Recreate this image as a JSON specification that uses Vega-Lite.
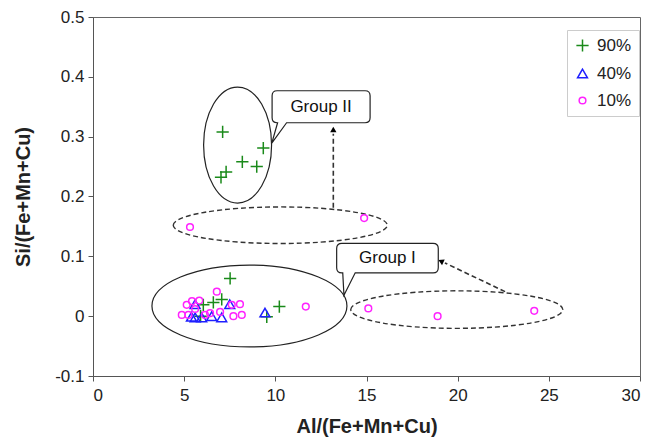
{
  "$schema": "https://vega.github.io/schema/vega-lite/v6.json",
  "width": 547,
  "height": 359,
  "autosize": "none",
  "padding": {"left": 93, "top": 17, "right": 20, "bottom": 65},
  "background": "white",
  "config": {
    "font": "Liberation Sans",
    "view": {"stroke": "#666", "strokeWidth": 1},
    "axis": {
      "grid": false,
      "domainColor": "#555",
      "tickColor": "#555",
      "tickSize": 5,
      "labelFontSize": 17,
      "labelColor": "#222",
      "titleFontSize": 20,
      "titleFontWeight": "bold",
      "titleColor": "#222"
    }
  },
  "datasets": {
    "points": [
      {"x": 7.11, "y": 0.308, "series": "90%"},
      {"x": 9.34, "y": 0.281, "series": "90%"},
      {"x": 8.19, "y": 0.258, "series": "90%"},
      {"x": 8.98, "y": 0.25, "series": "90%"},
      {"x": 7.3, "y": 0.241, "series": "90%"},
      {"x": 7.02, "y": 0.232, "series": "90%"},
      {"x": 7.52, "y": 0.063, "series": "90%"},
      {"x": 7.06, "y": 0.028, "series": "90%"},
      {"x": 6.6, "y": 0.023, "series": "90%"},
      {"x": 6.05, "y": 0.019, "series": "90%"},
      {"x": 10.22, "y": 0.016, "series": "90%"},
      {"x": 9.53, "y": -0.001, "series": "90%"},
      {"x": 5.9, "y": 0.0, "series": "90%"},
      {"x": 5.6, "y": 0.02, "series": "40%"},
      {"x": 7.5, "y": 0.02, "series": "40%"},
      {"x": 5.6, "y": -0.002, "series": "40%"},
      {"x": 5.96, "y": -0.002, "series": "40%"},
      {"x": 6.51, "y": 0.0, "series": "40%"},
      {"x": 7.06, "y": -0.002, "series": "40%"},
      {"x": 9.43, "y": 0.006, "series": "40%"},
      {"x": 5.4, "y": -0.001, "series": "40%"},
      {"x": 6.79, "y": 0.041, "series": "10%"},
      {"x": 5.83, "y": 0.026, "series": "10%"},
      {"x": 5.14, "y": 0.019, "series": "10%"},
      {"x": 8.06, "y": 0.02, "series": "10%"},
      {"x": 7.61, "y": 0.019, "series": "10%"},
      {"x": 4.87, "y": 0.002, "series": "10%"},
      {"x": 5.23, "y": 0.002, "series": "10%"},
      {"x": 6.97, "y": 0.007, "series": "10%"},
      {"x": 7.7, "y": 0.0, "series": "10%"},
      {"x": 8.16, "y": 0.002, "series": "10%"},
      {"x": 6.42, "y": 0.005, "series": "10%"},
      {"x": 6.14, "y": 0.002, "series": "10%"},
      {"x": 11.67, "y": 0.016, "series": "10%"},
      {"x": 15.1, "y": 0.013, "series": "10%"},
      {"x": 18.9, "y": 0.0, "series": "10%"},
      {"x": 24.2, "y": 0.009, "series": "10%"},
      {"x": 5.32, "y": 0.149, "series": "10%"},
      {"x": 14.87, "y": 0.164, "series": "10%"},
      {"x": 5.43, "y": 0.025, "series": "10%"},
      {"x": 5.6, "y": 0.012, "series": "10%"}
    ],
    "ann": [
      {"id": "e2", "x": 7.93, "y": 0.286},
      {"id": "e1", "x": 8.58, "y": 0.017},
      {"id": "d2", "x": 10.27, "y": 0.152},
      {"id": "d1", "x": 19.95, "y": 0.011},
      {"id": "c2", "x": 12.51, "y": 0.35, "label": "Group II"},
      {"id": "c1", "x": 16.15, "y": 0.097, "label": "Group I"},
      {"id": "h1", "x": 13.18, "y": 0.312},
      {"id": "h2", "x": 19.08, "y": 0.092}
    ],
    "arrows": [
      {"id": "a1", "x": 13.18, "y": 0.181, "o": 0},
      {"id": "a1", "x": 13.18, "y": 0.305, "o": 1},
      {"id": "a2", "x": 22.6, "y": 0.041, "o": 0},
      {"id": "a2", "x": 19.3, "y": 0.089, "o": 1}
    ]
  },
  "encoding": {
    "x": {"field": "x", "type": "quantitative", "scale": {"domain": [0, 30], "nice": false, "zero": false}, "axis": {"values": [0, 5, 10, 15, 20, 25, 30], "title": "Al/(Fe+Mn+Cu)", "labelPadding": 6, "titlePadding": 13}},
    "y": {"field": "y", "type": "quantitative", "scale": {"domain": [-0.1, 0.5], "nice": false, "zero": false}, "axis": {"values": [-0.1, 0, 0.1, 0.2, 0.3, 0.4, 0.5], "title": "Si/(Fe+Mn+Cu)", "labelExpr": "abs(datum.value) < 1e-9 ? '0' : replace(format(datum.value, '.1f'), '\u2212', '-')", "labelPadding": 4, "titlePadding": 21}}
  },
  "layer": [
    {
      "data": {"name": "arrows"},
      "mark": {"type": "line", "stroke": "#333", "strokeWidth": 1.6, "strokeDash": [5, 3]},
      "encoding": {"detail": {"field": "id"}, "order": {"field": "o"}}
    },
    {
      "data": {"name": "ann"},
      "transform": [{"filter": "datum.id == 'h1'"}],
      "mark": {"type": "point", "shape": "triangle-up", "size": 40, "filled": true, "color": "#000", "opacity": 1}
    },
    {
      "data": {"name": "ann"},
      "transform": [{"filter": "datum.id == 'h2'"}],
      "mark": {"type": "point", "shape": "triangle-up", "size": 40, "angle": 295, "filled": true, "color": "#000", "opacity": 1}
    },
    {
      "data": {"name": "ann"},
      "transform": [{"filter": "datum.id == 'e2'"}],
      "mark": {"type": "point", "shape": "M-0.586,0C-0.586,-0.552 -0.324,-1 0,-1C0.324,-1 0.586,-0.552 0.586,0C0.586,0.552 0.324,1 0,1C-0.324,1 -0.586,0.552 -0.586,0Z", "size": 13456, "filled": false, "stroke": "#222", "strokeWidth": 1.2, "opacity": 1}
    },
    {
      "data": {"name": "ann"},
      "transform": [{"filter": "datum.id == 'e1'"}],
      "mark": {"type": "point", "shape": "M-1,0C-1,-0.232 -0.552,-0.42 0,-0.42C0.552,-0.42 1,-0.232 1,0C1,0.232 0.552,0.42 0,0.42C-0.552,0.42 -1,0.232 -1,0Z", "size": 38025, "filled": false, "stroke": "#222", "strokeWidth": 1.2, "opacity": 1}
    },
    {
      "data": {"name": "ann"},
      "transform": [{"filter": "datum.id == 'd2'"}],
      "mark": {"type": "point", "shape": "M-1,0C-1,-0.094 -0.552,-0.171 0,-0.171C0.552,-0.171 1,-0.094 1,0C1,0.094 0.552,0.171 0,0.171C-0.552,0.171 -1,0.094 -1,0Z", "size": 45796, "filled": false, "stroke": "#333", "strokeWidth": 1.4, "strokeDash": [5, 3], "opacity": 1}
    },
    {
      "data": {"name": "ann"},
      "transform": [{"filter": "datum.id == 'd1'"}],
      "mark": {"type": "point", "shape": "M-1,0C-1,-0.098 -0.552,-0.177 0,-0.177C0.552,-0.177 1,-0.098 1,0C1,0.098 0.552,0.177 0,0.177C-0.552,0.177 -1,0.098 -1,0Z", "size": 44944, "filled": false, "stroke": "#333", "strokeWidth": 1.4, "strokeDash": [5, 3], "opacity": 1}
    },
    {
      "data": {"name": "ann"},
      "transform": [{"filter": "datum.id == 'c2'"}],
      "mark": {"type": "point", "shape": "M-0.88,-0.32L0.88,-0.32Q0.98,-0.32 0.98,-0.22L0.98,0.22Q0.98,0.32 0.88,0.32L-0.69,0.32L-0.986,0.726L-0.87,0.32L-0.88,0.32Q-0.98,0.32 -0.98,0.22L-0.98,-0.22Q-0.98,-0.32 -0.88,-0.32Z", "size": 10000, "filled": true, "fill": "white", "stroke": "#222", "strokeWidth": 1.2, "opacity": 1}
    },
    {
      "data": {"name": "ann"},
      "transform": [{"filter": "datum.id == 'c1'"}],
      "mark": {"type": "point", "shape": "M-0.877,-0.283L0.877,-0.283Q0.977,-0.283 0.977,-0.183L0.977,0.183Q0.977,0.283 0.877,0.283L-0.62,0.283L-0.837,0.712L-0.86,0.283L-0.877,0.283Q-0.977,0.283 -0.977,0.183L-0.977,-0.183Q-0.977,-0.283 -0.877,-0.283Z", "size": 10816, "filled": true, "fill": "white", "stroke": "#222", "strokeWidth": 1.2, "opacity": 1}
    },
    {
      "data": {"name": "ann"},
      "transform": [{"filter": "datum.id == 'c1' || datum.id == 'c2'"}],
      "mark": {"type": "text", "fontSize": 17, "color": "#111", "align": "center", "baseline": "middle"},
      "encoding": {"text": {"field": "label"}}
    },
    {
      "data": {"name": "points"},
      "mark": {"type": "point", "filled": false, "strokeWidth": 1.5, "opacity": 1},
      "encoding": {
        "shape": {"field": "series", "type": "nominal", "scale": {"domain": ["90%", "40%", "10%"], "range": ["M-1,0L1,0M0,-1L0,1", "triangle-up", "circle"]}, "legend": {"orient": "none", "legendX": 474, "legendY": 13, "title": null, "labelFontSize": 17, "labelColor": "#222", "strokeColor": "#ccc", "padding": 7, "rowPadding": 9, "symbolSize": 70, "symbolStrokeWidth": 1.5, "labelOffset": 6}},
        "color": {"field": "series", "type": "nominal", "scale": {"domain": ["90%", "40%", "10%"], "range": ["#1a8a1a", "#1f1fff", "#ff22ff"]}, "legend": {"orient": "none", "legendX": 474, "legendY": 13, "title": null, "labelFontSize": 17, "labelColor": "#222", "strokeColor": "#ccc", "padding": 7, "rowPadding": 9, "symbolSize": 70, "symbolStrokeWidth": 1.5, "labelOffset": 6}},
        "size": {"field": "series", "type": "nominal", "scale": {"domain": ["90%", "40%", "10%"], "range": [150, 45, 40]}, "legend": null}
      }
    }
  ]
}
